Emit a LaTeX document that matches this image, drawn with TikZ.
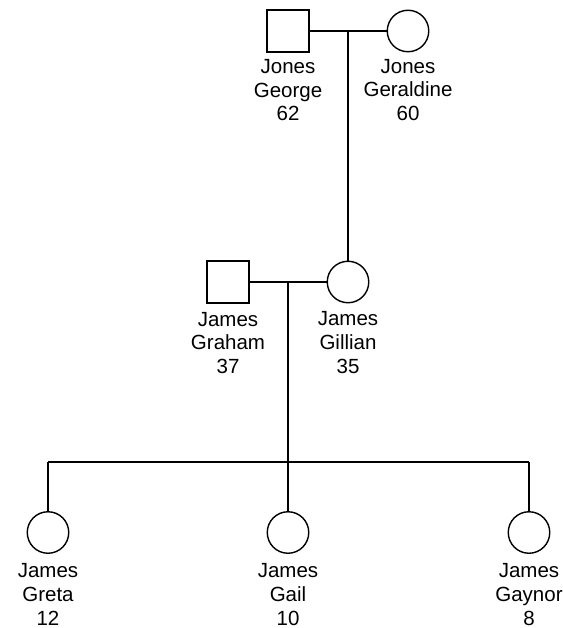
\documentclass[tikz,border=0pt]{standalone}
\usepackage{fontspec}
\setmainfont{Liberation Sans}
\usetikzlibrary{positioning, calc}

\begin{document}
\begin{tikzpicture}[x=1pt, y=-1pt, line width=1.4pt,
    male/.style={draw, rectangle, minimum size=42pt, inner sep=0pt},
    female/.style={draw, circle, minimum size=41.5pt, inner sep=0pt},
    persontxt/.style={align=center, inner sep=0pt, font=\fontsize{20.5}{23.7}\selectfont}]
  \useasboundingbox (0,0) rectangle (562,628);

  % Grandparents
  \node[male] (george) at (288, 31) {};
  \node[female] (geraldine) at (408, 31) {};
  \node[persontxt, below=6pt of george] (george-txt) {Jones\\George\\62};
  \node[persontxt, below=6pt of geraldine] (geraldine-txt) {Jones\\Geraldine\\60};
  \draw (george) -- (geraldine);
  \coordinate (m1) at ($(george)!0.5!(geraldine)$);

  % Parents
  \node[female] (gillian) at (m1 |- 0,282) {};
  \node[male] (graham) at (228, 282) {};
  \node[persontxt, below=7.5pt of graham] (graham-txt) {James\\Graham\\37};
  \node[persontxt, below=7.5pt of gillian] (gillian-txt) {James\\Gillian\\35};
  \draw (m1) -- (gillian);
  \draw (graham) -- (gillian);
  \coordinate (m2) at ($(graham)!0.5!(gillian)$);

  % Children
  \coordinate (sib) at (m2 |- 0,462);
  \node[female] (greta) at (48, 532.5) {};
  \node[female] (gail) at (sib |- greta) {};
  \node[female] (gaynor) at (529, 532.5) {};
  \node[persontxt, below=9pt of greta] (greta-txt) {James\\Greta\\12};
  \node[persontxt, below=9pt of gail] (gail-txt) {James\\Gail\\10};
  \node[persontxt, below=9pt of gaynor] (gaynor-txt) {James\\Gaynor\\8};
  \coordinate (bar-l) at (greta |- sib);
  \coordinate (bar-r) at (gaynor |- sib);
  \draw (m2) -- (sib);
  \draw (bar-l) -- (bar-r);
  \draw (bar-l) -- (greta);
  \draw (sib) -- (gail);
  \draw (bar-r) -- (gaynor);
\end{tikzpicture}
\end{document}
